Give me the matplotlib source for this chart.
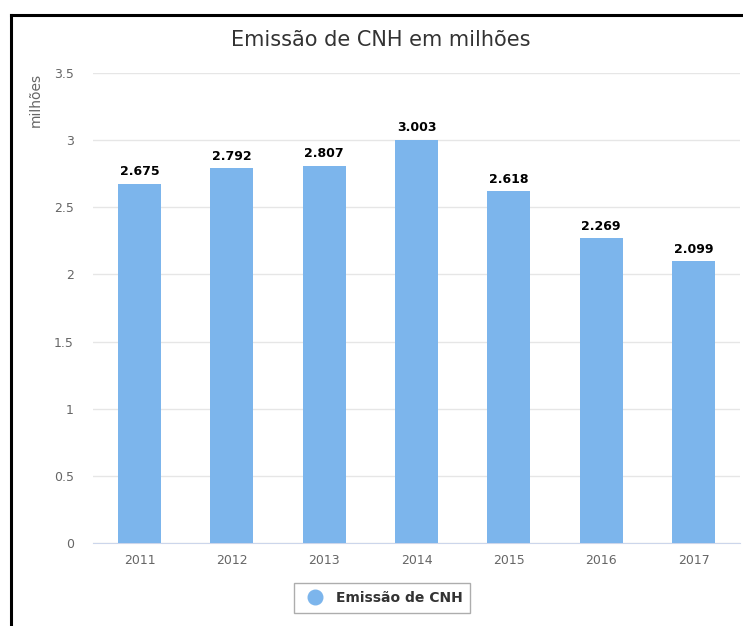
import matplotlib
matplotlib.use("Agg")
import matplotlib.pyplot as plt
from matplotlib.lines import Line2D

years = ["2011", "2012", "2013", "2014", "2015", "2016", "2017"]
values = [2.675, 2.792, 2.807, 3.003, 2.618, 2.269, 2.099]
yticks = [0, 0.5, 1, 1.5, 2, 2.5, 3, 3.5]
ytick_labels = ["0", "0.5", "1", "1.5", "2", "2.5", "3", "3.5"]
title = "Emissão de CNH em milhões"
ylabel = "milhões"
series_name = "Emissão de CNH"

plt.rcParams['font.family'] = ['DejaVu Sans']

fig = plt.figure(figsize=(7.43, 6.26), dpi=100)
ax = fig.add_axes([0.1256, 0.1326, 0.870, 0.7508])

x = list(range(len(years)))
ax.bar(x, values, width=0.466, color="#7cb5ec", zorder=3, label=series_name)
for xi, v in zip(x, values):
    ax.annotate(f"{v:.3f}", (xi, v), xytext=(0, 4), textcoords="offset points",
                ha="center", va="bottom", fontsize=9, fontweight="bold", color="#000000", zorder=4)

ax.set_xlim(-0.5, len(years) - 0.5)
ax.set_ylim(0, 3.5)
ax.set_yticks(yticks)
ax.set_yticklabels(ytick_labels)
ax.set_xticks(x)
ax.set_xticklabels(years)
ax.grid(axis="y", color="#e6e6e6", linewidth=1, zorder=0)
ax.set_axisbelow(True)
for s in ["top", "right", "left"]:
    ax.spines[s].set_visible(False)
ax.spines["bottom"].set_color("#ccd6eb")
ax.tick_params(axis="y", length=0, pad=14, labelsize=9, labelcolor="#666666")
ax.tick_params(axis="x", length=0, pad=8, labelsize=9, labelcolor="#666666")

ax.set_ylabel(ylabel, fontsize=10, color="#666666", loc="top", labelpad=8)

fig.text(0.512, 0.936, title, ha="center", va="center", fontsize=15, color="#333333")

handle = Line2D([0], [0], marker="o", linestyle="none", markersize=10.5, markerfacecolor="#7cb5ec",
                markeredgecolor="#7cb5ec")
leg = fig.legend([handle], [series_name], loc="center", bbox_to_anchor=(382 / 743, 1 - 598 / 626),
                 frameon=True, handletextpad=0.5, borderpad=0.55, fancybox=False,
                 prop={"weight": "bold", "size": 10})
leg.get_frame().set_edgecolor("#999999")
leg.get_frame().set_linewidth(1)
for t in leg.get_texts():
    t.set_color("#333333")

# black frame on top and left
fig.add_artist(Line2D([10.5 / 743, 1], [1 - 14.8 / 626, 1 - 14.8 / 626], color="black", linewidth=2.2,
                      transform=fig.transFigure))
fig.add_artist(Line2D([10.5 / 743, 10.5 / 743], [0, 1 - 14.8 / 626], color="black", linewidth=2.2,
                      transform=fig.transFigure))

fig.savefig("out.png", dpi=100)
